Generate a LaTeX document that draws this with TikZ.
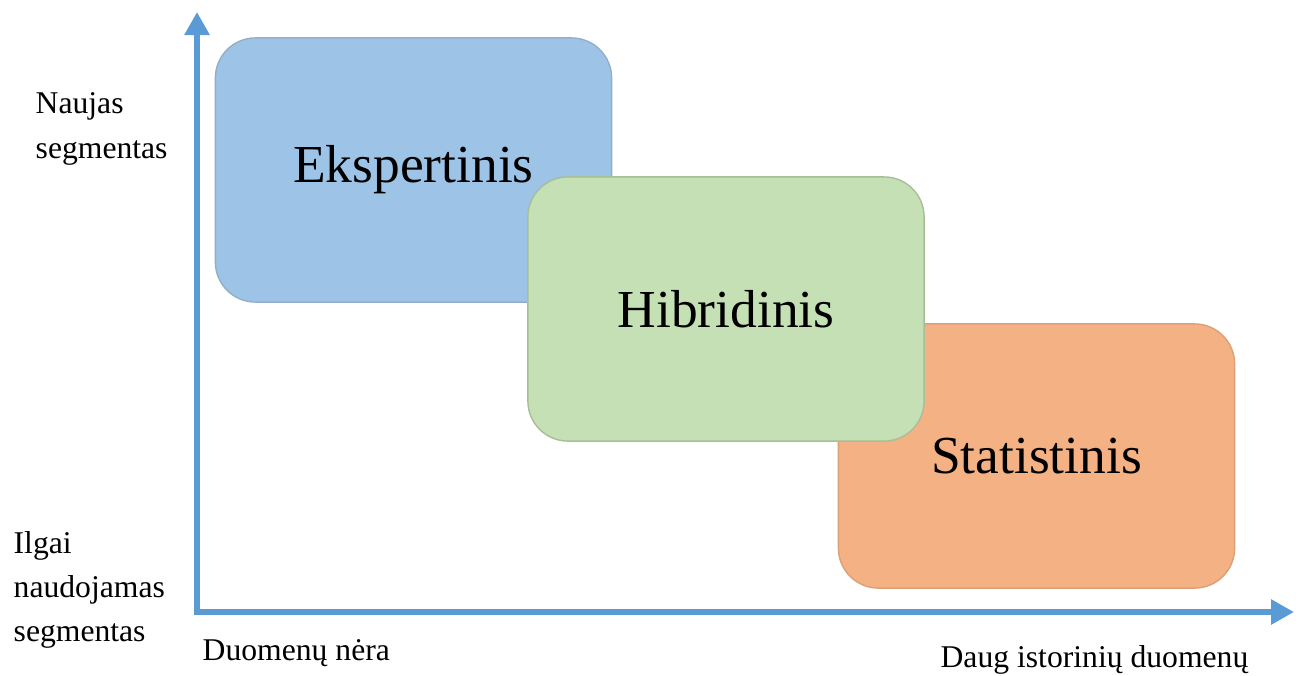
\documentclass[tikz,border=0pt]{standalone}
\usepackage{fontspec}
\setmainfont{Liberation Serif}
\usetikzlibrary{arrows.meta, positioning}
\definecolor{axblue}{RGB}{91,155,213}
\definecolor{boxblue}{RGB}{157,195,230}
\definecolor{boxgreen}{RGB}{197,224,180}
\definecolor{boxorange}{RGB}{244,177,131}

\begin{document}
\begin{tikzpicture}[x=0.01cm, y=-0.01cm,
  zone/.style={rectangle, rounded corners=0.4cm, minimum width=3.96cm, minimum height=2.64cm, inner sep=0pt, line width=0.4pt, font=\fontsize{15.2}{18}\selectfont},
  axis/.style={-{Triangle[length=0.23cm, width=0.24cm]}, line width=0.06cm, draw=axblue},
  lbl/.style={align=left, inner sep=0pt, font=\fontsize{9}{12.6}\selectfont}
]
\useasboundingbox (0,0) rectangle (1304,675);
% axes
\coordinate (orig) at (197,612);
\coordinate (ytip) at (197,12);
\coordinate (xtip) at (1294,612);
\draw[axis] ([yshift=-0.03cm]orig) -- (ytip);
\draw[axis] ([xshift=-0.03cm]orig) -- (xtip);
% zones
\node[zone, fill=boxblue, draw=boxblue!85!black!90] (eksp) at (413.5,170) {\raisebox{2pt}{Ekspertinis}};
\node[zone, fill=boxorange, draw=boxorange!90!black] (stat) at (1036.5,456) {Statistinis};
\node[zone, fill=boxgreen, draw=boxgreen!85!black] (hibr) at (726,309) {Hibridinis};
% axis labels
\node[lbl, anchor=west] (naujas) at (35,129) {Naujas\\segmentas};
\node[lbl, anchor=west] (ilgai) at (13,590) {Ilgai\\naudojamas\\segmentas};
\node[lbl, anchor=west] (nera) at (202,653) {Duomenų nėra};
\node[lbl, anchor=east] (daug) at (1249,660) {Daug istorinių duomenų};
\end{tikzpicture}
\end{document}
